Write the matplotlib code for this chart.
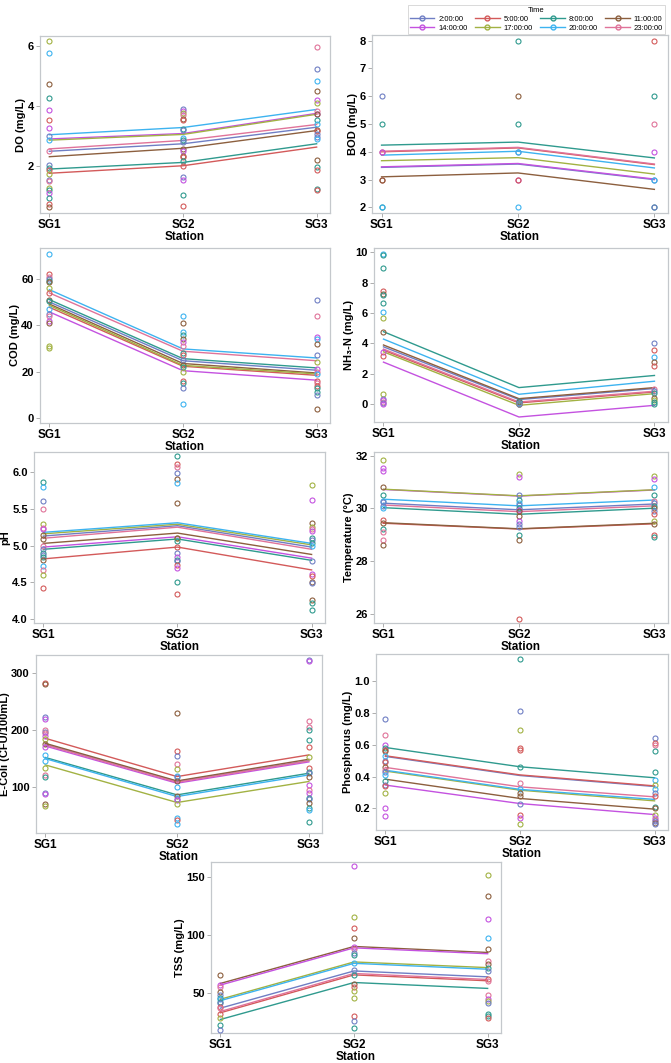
import matplotlib
matplotlib.use('Agg')
import matplotlib.pyplot as plt
from matplotlib.lines import Line2D

plt.rcParams['font.family'] = ['Liberation Sans', 'DejaVu Sans']

# time of sampling, order used everywhere below
times = ['2:00:00', '5:00:00', '8:00:00', '11:00:00', '14:00:00', '17:00:00', '20:00:00', '23:00:00']
colors = ['#6f7ec4', '#d35a5a', '#2f9a8e', '#8c5f3e', '#c452e0', '#a2b243', '#3db3f0', '#e07399']
stations = ['SG1', 'SG2', 'SG3']

# fitted lines: one row per time, values at SG1, SG2, SG3
do_lines = [[2.50, 2.75, 3.30], [1.77, 2.02, 2.64], [1.91, 2.13, 2.75], [2.32, 2.60, 3.19],
            [2.91, 3.09, 3.76], [2.87, 3.06, 3.73], [3.05, 3.29, 3.89], [2.58, 2.86, 3.39]]
# observed points: (value, time index)
do_pts = [
    [(6.17, 5), (5.78, 6), (4.75, 3), (4.28, 2), (3.86, 4), (3.53, 1), (3.26, 4), (3.0, 0), (2.89, 6), (2.52, 7),
     (2.04, 0), (1.93, 2), (1.88, 1), (1.74, 5), (1.54, 0), (1.50, 7), (1.28, 5), (1.21, 2), (1.13, 4), (0.94, 2),
     (0.74, 1), (0.66, 3)],
    [(3.89, 0), (3.84, 4), (3.77, 5), (3.70, 7), (3.58, 3), (3.55, 1), (3.23, 2), (3.20, 0), (2.95, 6), (2.89, 2),
     (2.82, 0), (2.58, 3), (2.52, 4), (2.36, 3), (2.30, 1), (2.19, 2), (2.02, 1), (1.65, 0), (1.54, 4), (1.04, 2),
     (0.69, 1)],
    [(5.98, 7), (5.23, 0), (4.84, 6), (4.50, 3), (4.20, 4), (4.12, 5), (3.84, 7), (3.75, 4), (3.73, 3), (3.55, 2),
     (3.41, 6), (3.22, 3), (3.17, 1), (3.06, 0), (2.97, 0), (2.90, 6), (2.21, 3), (1.97, 2), (1.89, 1), (1.26, 2),
     (1.23, 1)]]

bod_lines = [[3.44, 3.56, 3.00], [4.00, 4.14, 3.54], [4.24, 4.35, 3.78], [3.10, 3.24, 2.65],
             [3.46, 3.58, 3.02], [3.68, 3.79, 3.20], [3.88, 4.02, 3.42], [4.02, 4.16, 3.56]]
bod_pts = [
    [(6, 0), (5, 2), (4, 1), (4, 4), (3, 1), (3, 3), (2, 2), (2, 6)],
    [(8, 2), (6, 3), (5, 2), (4, 0), (4, 6), (3, 4), (3, 1), (2, 6)],
    [(8, 1), (6, 2), (5, 7), (4, 4), (3, 0), (3, 6), (2, 2), (2, 0)]]

cod_lines = [[50.1, 24.7, 20.6], [47.8, 22.3, 18.4], [51.1, 25.6, 21.6], [49.2, 23.5, 19.4],
             [45.8, 20.4, 16.3], [48.6, 22.7, 19.0], [55.4, 29.8, 25.9], [54.0, 28.8, 24.7]]
cod_pts = [
    [(71, 6), (62, 1), (61, 7), (60, 0), (59, 2), (58.5, 3), (56, 5), (54, 1), (51, 3), (50.5, 2), (47, 6), (45, 0),
     (44, 7), (42, 4), (41, 3), (31, 5), (30, 5)],
    [(44, 6), (41, 3), (37, 6), (36, 2), (34, 3), (33, 4), (31, 7), (28, 2), (27, 1), (25, 0), (23, 3), (22, 2),
     (20, 5), (16, 1), (15, 2), (13, 0), (6, 6)],
    [(51, 0), (44, 7), (35, 4), (34, 6), (32, 3), (27, 0), (24, 5), (21, 4), (20, 7), (19, 6), (16, 1), (15, 7),
     (14, 1), (13, 2), (11, 2), (10, 0), (4, 3)]]

nh3_lines = [[3.77, 0.29, 1.02], [3.55, 0.07, 0.79], [4.77, 1.08, 1.88], [3.89, 0.35, 1.08],
             [2.76, -0.86, -0.09], [3.44, -0.09, 0.68], [4.28, 0.64, 1.50], [3.62, 0.13, 0.84]]
nh3_pts = [
    [(9.89, 6), (9.80, 2), (8.95, 2), (7.45, 1), (7.25, 3), (7.20, 2), (6.65, 2), (6.10, 6), (5.65, 5), (4.75, 3),
     (3.45, 4), (3.15, 1), (0.65, 5), (0.35, 0), (0.25, 4), (0.15, 7), (0.05, 0), (0.0, 4)],
    [(0.22, 2), (0.15, 0), (0.10, 3), (0.06, 6), (0.03, 2), (0.0, 1), (0.0, 5), (0.02, 0)],
    [(4.05, 0), (3.55, 1), (3.10, 6), (2.80, 3), (2.50, 1), (1.00, 7), (0.85, 0), (0.75, 2), (0.40, 3), (0.25, 5),
     (0.10, 2), (0.02, 2)]]

ph_lines = [[5.13, 5.27, 4.98], [4.82, 4.98, 4.67], [4.95, 5.09, 4.80], [5.03, 5.17, 4.88],
            [4.98, 5.12, 4.83], [5.16, 5.29, 5.01], [5.18, 5.31, 5.03], [5.10, 5.25, 4.95]]
ph_pts = [
    [(5.86, 2), (5.79, 6), (5.60, 0), (5.49, 7), (5.29, 5), (5.24, 7), (5.22, 4), (5.15, 3), (5.09, 3), (5.00, 7),
     (4.96, 0), (4.90, 2), (4.87, 0), (4.84, 2), (4.81, 3), (4.72, 6), (4.67, 7), (4.60, 5), (4.43, 1)],
    [(6.22, 2), (6.11, 1), (6.07, 7), (5.98, 0), (5.90, 3), (5.85, 6), (5.58, 3), (5.11, 5), (5.10, 3), (5.06, 2),
     (4.98, 1), (4.90, 0), (4.85, 4), (4.80, 2), (4.79, 0), (4.74, 1), (4.70, 4), (4.50, 2), (4.35, 1)],
    [(5.82, 5), (5.62, 4), (5.31, 3), (5.25, 5), (5.22, 7), (5.20, 4), (5.10, 2), (5.08, 0), (5.03, 2), (5.00, 6),
     (4.79, 0), (4.61, 4), (4.59, 1), (4.50, 3), (4.49, 0), (4.26, 3), (4.22, 2), (4.12, 2)]]

temp_lines = [[30.20, 29.95, 30.17], [29.44, 29.22, 29.42], [30.03, 29.78, 30.01], [29.46, 29.23, 29.44],
              [30.72, 30.47, 30.70], [30.73, 30.48, 30.71], [30.35, 30.10, 30.32], [30.13, 29.88, 30.10]]
temp_pts = [
    [(31.82, 5), (31.54, 4), (31.41, 4), (30.82, 3), (30.51, 2), (30.30, 6), (30.25, 0), (30.10, 0), (30.00, 6),
     (29.57, 1), (29.45, 3), (29.22, 2), (29.10, 7), (28.82, 7), (28.62, 3)],
    [(31.32, 5), (31.20, 4), (30.52, 0), (30.32, 2), (30.22, 6), (30.12, 0), (30.02, 2), (29.95, 4), (29.90, 3),
     (29.72, 3), (29.54, 4), (29.40, 0), (29.30, 0), (29.00, 2), (28.82, 3), (25.81, 1)],
    [(31.22, 5), (31.10, 4), (30.80, 6), (30.51, 2), (30.30, 7), (30.20, 0), (30.10, 2), (30.00, 3), (29.90, 0),
     (29.80, 1), (29.52, 5), (29.40, 3), (29.00, 1), (28.90, 2)]]

ecoli_lines = [[175.0, 110.0, 146.5], [185.5, 118.6, 156.4], [152.0, 86.6, 124.4], [176.7, 111.0, 148.8],
               [172.0, 107.0, 144.2], [139.0, 73.3, 110.0], [150.0, 83.7, 121.5], [174.0, 108.7, 146.0]]
ecoli_pts = [
    [(282, 1), (280, 3), (222, 0), (220, 4), (200, 7), (197, 0), (194, 7), (190, 4), (185, 5), (175, 3), (170, 4),
     (157, 6), (145, 6), (133, 5), (122, 7), (118, 2), (90, 0), (88, 4), (70, 3), (68, 5)],
    [(229, 3), (163, 1), (155, 0), (140, 7), (131, 5), (120, 6), (118, 0), (110, 3), (100, 6), (85, 3), (80, 0),
     (78, 4), (70, 5), (46, 6), (42, 1), (36, 6)],
    [(322, 0), (320, 4), (216, 7), (205, 7), (200, 2), (183, 2), (170, 1), (153, 5), (133, 1), (127, 2), (125, 0),
     (118, 3), (103, 4), (95, 7), (90, 4), (82, 2), (80, 0), (73, 3), (63, 2), (60, 6), (40, 2)]]

phos_lines = [[0.527, 0.407, 0.338], [0.531, 0.411, 0.342], [0.583, 0.462, 0.393], [0.384, 0.263, 0.196],
              [0.347, 0.231, 0.162], [0.435, 0.315, 0.248], [0.440, 0.320, 0.257], [0.458, 0.336, 0.273]]
phos_pts = [
    [(0.76, 0), (0.66, 7), (0.60, 4), (0.58, 2), (0.57, 1), (0.56, 3), (0.53, 6), (0.50, 0), (0.49, 1), (0.46, 3),
     (0.44, 7), (0.43, 0), (0.41, 6), (0.37, 2), (0.35, 0), (0.34, 1), (0.30, 5), (0.20, 4), (0.15, 4)],
    [(1.14, 2), (0.81, 0), (0.69, 5), (0.58, 1), (0.57, 1), (0.46, 2), (0.36, 7), (0.32, 6), (0.30, 3), (0.28, 3),
     (0.23, 0), (0.16, 1), (0.14, 4), (0.10, 5)],
    [(0.64, 0), (0.61, 1), (0.60, 7), (0.56, 2), (0.43, 2), (0.38, 6), (0.35, 5), (0.32, 6), (0.30, 0), (0.28, 1),
     (0.21, 2), (0.20, 3), (0.16, 5), (0.14, 4), (0.13, 7), (0.12, 0), (0.11, 3), (0.10, 0)]]

tss_lines = [[36.9, 69.1, 64.0], [32.9, 65.7, 60.6], [27.1, 59.1, 54.0], [58.3, 90.3, 85.1],
             [56.9, 89.1, 84.0], [44.6, 76.9, 72.0], [43.4, 75.7, 70.6], [34.0, 66.9, 61.7]]
tss_pts = [
    [(66, 3), (57, 4), (55, 7), (51, 3), (48, 0), (46, 2), (45, 6), (42, 2), (41, 0), (38, 1), (37, 7), (32, 1),
     (28, 5), (22, 2), (18, 0)],
    [(160, 4), (116, 5), (106, 1), (98, 3), (90, 4), (88, 7), (85, 0), (83, 2), (76, 6), (70, 0), (66, 2), (58, 3),
     (55, 1), (52, 5), (46, 5), (30, 1), (26, 0), (20, 2)],
    [(152, 5), (134, 3), (114, 4), (98, 6), (88, 3), (78, 7), (75, 3), (72, 2), (69, 0), (62, 1), (60, 7), (48, 7),
     (45, 4), (43, 5), (41, 0), (32, 2), (30, 2), (28, 1)]]

W, H = 671, 1063
fig = plt.figure(figsize=(W / 100, H / 100), dpi=100)


def panel(box, lines, pts, ylim, yticks, ylabel, fmt='{:g}'):
    l, t, r, b = box
    ax = fig.add_axes([l / W, 1 - b / H, (r - l) / W, (b - t) / H])
    x = [0, 1, 2]
    for i, row in enumerate(lines):
        ax.plot(x, row, color=colors[i], lw=1.0, zorder=2)
    for s, group in enumerate(pts):
        for val, ti in group:
            ax.plot(s, val, 'o', ms=3.6, mfc='none', mec=colors[ti], mew=0.8, zorder=3)
    ax.set_xlim(-0.07, 2.1)
    ax.set_ylim(*ylim)
    ax.set_xticks(x)
    ax.set_xticklabels(stations, fontsize=8.5, fontweight='bold')
    ax.set_yticks(yticks)
    ax.set_yticklabels([fmt.format(v) for v in yticks], fontsize=8, fontweight='bold')
    ax.set_xlabel('Station', fontsize=8.5, fontweight='bold', labelpad=0)
    ax.set_ylabel(ylabel, fontsize=8, fontweight='bold', labelpad=1)
    ax.tick_params(length=3, width=0.6, color='#a0a0a0', pad=1.5)
    for sp in ax.spines.values():
        sp.set_color('#c4c8cc')
        sp.set_linewidth(0.9)
    return ax


panel((40, 36, 330, 213), do_lines, do_pts, (0.45, 6.33), [2, 4, 6], 'DO (mg/L)')
panel((372, 35, 668, 213), bod_lines, bod_pts, (1.8, 8.2), [2, 3, 4, 5, 6, 7, 8], 'BOD (mg/L)')
panel((40, 248, 330, 423), cod_lines, cod_pts, (-2.2, 73.4), [0, 20, 40, 60], 'COD (mg/L)')
panel((374, 248, 668, 422), nh3_lines, nh3_pts, (-1.19, 10.29), [0, 2, 4, 6, 8, 10], 'NH\u2083-N (mg/L)')
panel((34, 452, 325, 623), ph_lines, ph_pts, (3.95, 6.27), [4.0, 4.5, 5.0, 5.5, 6.0], 'pH', '{:.1f}')
panel((374, 452, 668, 623), temp_lines, temp_pts, (25.66, 32.14), [26, 28, 30, 32], 'Temperature (\u00b0C)')
panel((36, 655, 322, 833), ecoli_lines, ecoli_pts, (20, 331), [100, 200, 300], 'E-Coli (CFU/100mL)')
panel((376, 654, 668, 830), phos_lines, phos_pts, (0.065, 1.17), [0.2, 0.4, 0.6, 0.8, 1.0], 'Phosphorus (mg/L)',
      '{:.1f}')
panel((211, 862, 501, 1033), tss_lines, tss_pts, (15.4, 163.4), [50, 100, 150], 'TSS (mg/L)')

# legend reads row by row: 2, 5, 8, 11 on top and 14, 17, 20, 23 below
order = [0, 4, 1, 5, 2, 6, 3, 7]
handles = [Line2D([0], [0], color=colors[i], lw=1.0, marker='o', ms=3.5, mfc='none', mec=colors[i]) for i in order]
leg = fig.legend(handles, [times[i] for i in order], title='Time', ncol=4, loc='upper right',
                 bbox_to_anchor=(669 / W, 1 - 1 / H), fontsize=5.5, title_fontsize=5.5,
                 frameon=True, fancybox=False, edgecolor='#c8c8c8', handlelength=3.2,
                 columnspacing=1.0, handletextpad=0.5, labelspacing=0.2, borderpad=0.3)
leg.get_frame().set_linewidth(0.6)

fig.savefig('out.png', dpi=100)
